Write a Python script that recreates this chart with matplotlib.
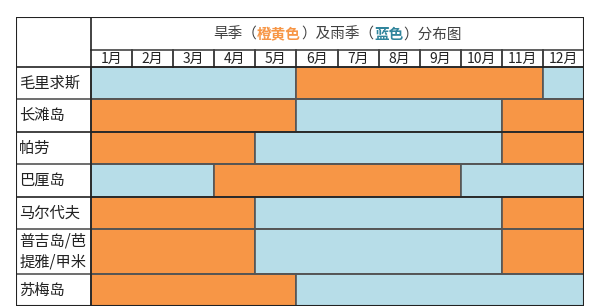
import matplotlib.pyplot as plt

plt.rcParams['font.family'] = ['Noto Sans CJK SC', 'DejaVu Sans']

# data: season per month, D = 旱季 (dry, orange), R = 雨季 (rain, blue)
places = ['毛里求斯', '长滩岛', '帕劳', '巴厘岛', '马尔代夫', '普吉岛/芭\n提雅/甲米', '苏梅岛']
months = ['1月', '2月', '3月', '4月', '5月', '6月', '7月', '8月', '9月', '10月', '11月', '12月']
seasons = [
    'RRRRRDDDDDDR',
    'DDDDDRRRRRDD',
    'DDDDRRRRRRDD',
    'RRRDDDDDDRRR',
    'DDDDRRRRRRDD',
    'DDDDRRRRRRDD',
    'DDDDDRRRRRRR',
]

orange = '#F79646'
blue = '#B7DDE8'
colors = {'D': orange, 'R': blue}

# layout (pixel units vertically, month units horizontally)
row_h = [32, 33, 32, 33, 32, 45, 32]
title_h, month_h = 33, 17
label_w = 75 / 41.08
total_h = title_h + month_h + sum(row_h)

fig = plt.figure(figsize=(6, 3.07), dpi=100)
ax = fig.add_axes([16 / 600, 1 / 307, 568 / 600, total_h / 307])
ax.set_xlim(-label_w, 12)
ax.set_ylim(total_h, 0)
ax.axis('off')

line_c = '#555555'

# season bars
top = title_h + month_h
for i, (place, s) in enumerate(zip(places, seasons)):
    h = row_h[i]
    start = 0
    for m in range(1, 13):
        if m == 12 or s[m] != s[start]:
            ax.barh(top + h / 2, m - start, left=start, height=h, color=colors[s[start]],
                    edgecolor=line_c, linewidth=1.2)
            start = m
    ax.text(-label_w + 0.08, top + h / 2, place, ha='left', va='center', fontsize=11,
            color='#222222', linespacing=1.3)
    ax.plot([-label_w, 12], [top + h, top + h], color='#222222' if i in (1, 3) else line_c, lw=1.2)
    top += h

# month header
for j, m in enumerate(months):
    ax.text(j + 0.5, title_h + month_h / 2 + 0.5, m, ha='center', va='center', fontsize=10, color='#222222')
    if j > 0:
        ax.plot([j, j], [title_h, title_h + month_h], color='#222222', lw=1.2)
ax.plot([0, 12], [title_h, title_h], color='#444444', lw=1.2)
ax.plot([-label_w, 12], [title_h + month_h, title_h + month_h], color='#222222', lw=1.2)
ax.plot([0, 0], [0, total_h], color='#222222', lw=1.2)

# title with coloured words
parts = [('旱季（', '#404040'), ('橙黄色', orange), ('）及雨季（', '#404040'),
         ('蓝色', '#31859C'), ('）分布图', '#404040')]
full = ''.join(p for p, _ in parts)
fig.canvas.draw()
renderer = fig.canvas.get_renderer()
tmp = ax.text(6, title_h / 2, full, fontsize=10.5, ha='center', va='center')
bb = tmp.get_window_extent(renderer)
tmp.remove()
x0 = ax.transData.inverted().transform((bb.x0, bb.y0))[0]
for p, c in parts:
    t = ax.text(x0, title_h / 2 + 1, p, fontsize=10.5, ha='left', va='center', color=c,
                fontweight='bold' if c != '#404040' else 'normal')
    e = t.get_window_extent(renderer)
    x0 = ax.transData.inverted().transform((e.x1, e.y0))[0]

# outer border
ax.plot([-label_w, 12, 12, -label_w, -label_w], [0, 0, total_h, total_h, 0], color='#222222', lw=1.5)

fig.savefig('out.png', dpi=100, facecolor='white')
